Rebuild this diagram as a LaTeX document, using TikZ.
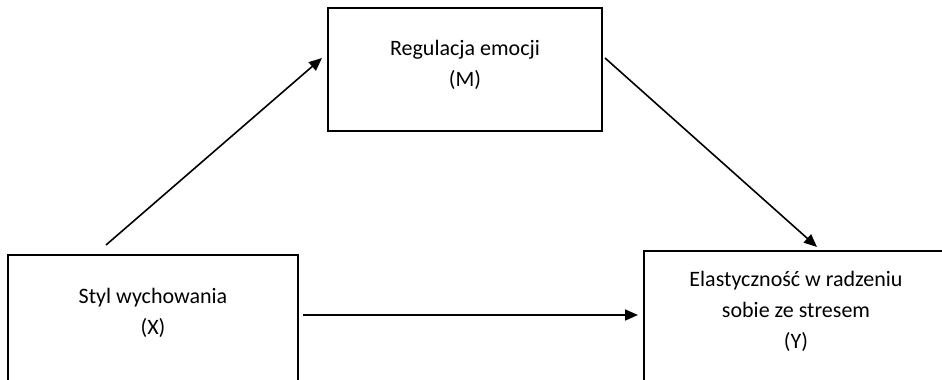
\documentclass[tikz,border=0pt]{standalone}
\usepackage{fontspec}
\setmainfont{Carlito}
\usetikzlibrary{arrows.meta}
\begin{document}
\begin{tikzpicture}[x=1pt,y=-1pt,
    box/.style={draw, line width=1.8pt, inner sep=0pt, outer sep=0pt},
    boxtext/.style={align=center, inner sep=0pt, font=\fontsize{22}{31}\selectfont},
    arr/.style={line width=1.6pt, -{Triangle[length=13pt,width=11pt]}}]
        \useasboundingbox (0,0) rectangle (942,380);
        \clip (0,0) rectangle (942,380);
        % boxes
        \node[box, minimum width=274pt, minimum height=123pt, anchor=north west] (M) at (328,8) {};
        \node[box, minimum width=290pt, minimum height=134pt, anchor=north west] (X) at (8,255) {};
        \node[box, minimum width=304pt, minimum height=138pt, anchor=north west] (Y) at (644,251) {};
        % texts
        \node[boxtext] (Mtext) at ([yshift=-57pt]M.north) {Regulacja emocji\\(M)};
        \node[boxtext] (Xtext) at ([yshift=-58pt]X.north) {Styl wychowania\\(X)};
        \node[boxtext] (Ytext) at ([yshift=-60pt]Y.north) {Elastyczność w radzeniu\\sobie ze stresem\\(Y)};
        % paths
        \draw[arr] ([xshift=98pt,yshift=10pt]X.north west) -- ([xshift=-6pt,yshift=-50pt]M.north west);
        \draw[arr] ([xshift=3pt,yshift=-50pt]M.north east) -- ([xshift=173pt,yshift=4pt]Y.north west);
        \draw[arr] ([xshift=5pt,yshift=-60pt]X.north east) -- ([xshift=-6pt,yshift=-64pt]Y.north west);
        \end{tikzpicture}
\end{document}
